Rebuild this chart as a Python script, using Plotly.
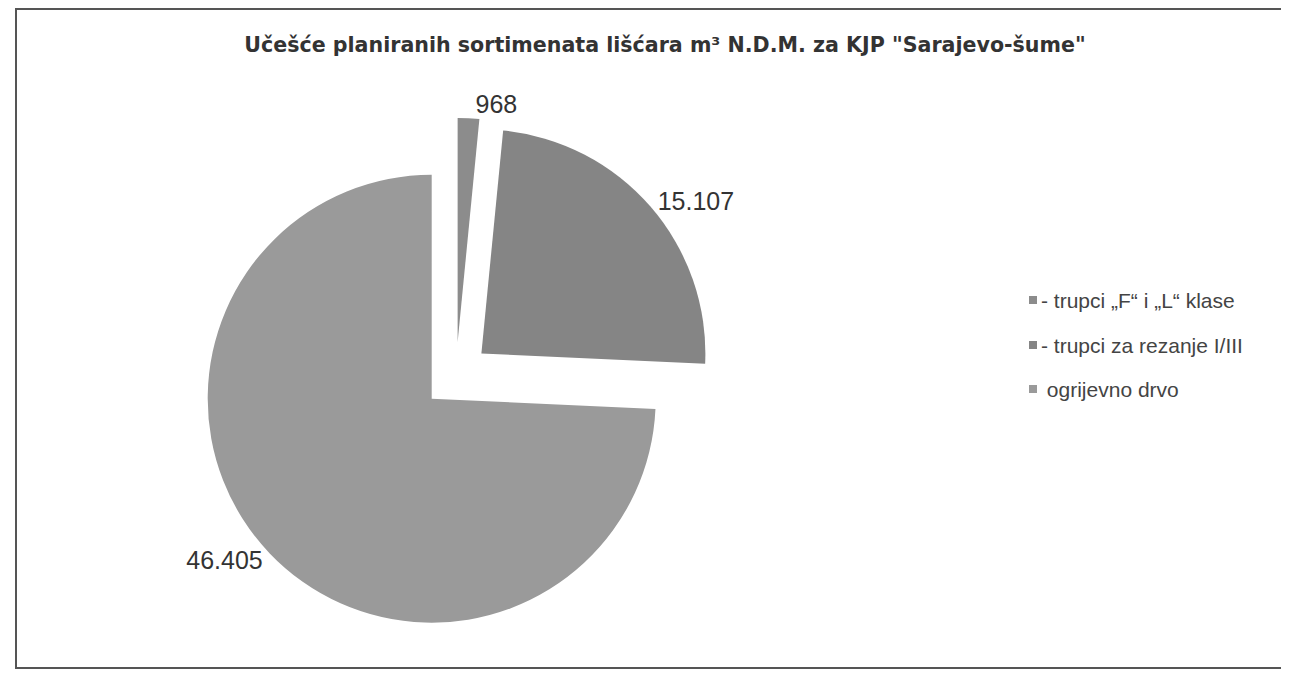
import plotly.graph_objects as go

# Data
labels = ["- trupci \u201eF\u201c i \u201eL\u201c klase", "- trupci za rezanje I/III", " ogrijevno drvo"]
values = [968, 15107, 46405]
value_text = ["968", "15.107", "46.405"]
colors = ["#8c8c8c", "#858585", "#9a9a9a"]
title_text = "U\u010de\u0161\u0107e planiranih sortimenata li\u0161\u0107ara m\u00b3 N.D.M. za KJP \"Sarajevo-\u0161ume\""

W, H = 1289, 676

fig = go.Figure()
fig.add_trace(go.Pie(
    labels=labels,
    values=values,
    text=value_text,
    texttemplate="%{text}",
    textposition="outside",
    textfont=dict(family="Liberation Sans, Arial", size=25, color="#333333"),
    marker=dict(colors=colors, line=dict(width=0)),
    pull=[0.15, 0.15, 0.15],
    sort=False,
    direction="clockwise",
    rotation=0,
    showlegend=False,
    automargin=False,
    hoverinfo="label+value",
    domain=dict(x=[0.1477, 0.5474], y=[0.0753, 0.8374]),
))

# Custom legend (annotations + square markers) built from the label/color lists
leg_x_px = 1025
leg_y_px = [292, 337, 381]
for lab, col, yp in zip(labels, colors, leg_y_px):
    fig.add_shape(type="rect", xref="paper", yref="paper",
                  x0=(leg_x_px - 4) / W, x1=(leg_x_px + 4) / W,
                  y0=(H - yp - 4) / H, y1=(H - yp + 4) / H,
                  fillcolor=col, line=dict(width=0))
    fig.add_annotation(xref="paper", yref="paper", x=(leg_x_px + 6) / W, y=(H - yp) / H,
                       text=lab, showarrow=False, xanchor="left", yanchor="middle",
                       font=dict(family="Liberation Sans, Arial", size=21, color="#444444"))

# Frame
fig.add_shape(type="rect", xref="paper", yref="paper",
              x0=8 / W, x1=1274 / W, y0=(H - 660) / H, y1=(H - 1) / H,
              line=dict(color="#555555", width=2), fillcolor="rgba(0,0,0,0)")

fig.update_layout(
    width=W, height=H,
    margin=dict(l=0, r=0, t=0, b=0, autoexpand=False),
    paper_bgcolor="white",
    plot_bgcolor="white",
    title=dict(text="<b>" + title_text + "</b>", x=657 / W, xanchor="center",
               y=(H - 37) / H, yanchor="middle",
               font=dict(family="DejaVu Sans", size=20.6, color="#333333")),
)

fig.write_html("out.html")
